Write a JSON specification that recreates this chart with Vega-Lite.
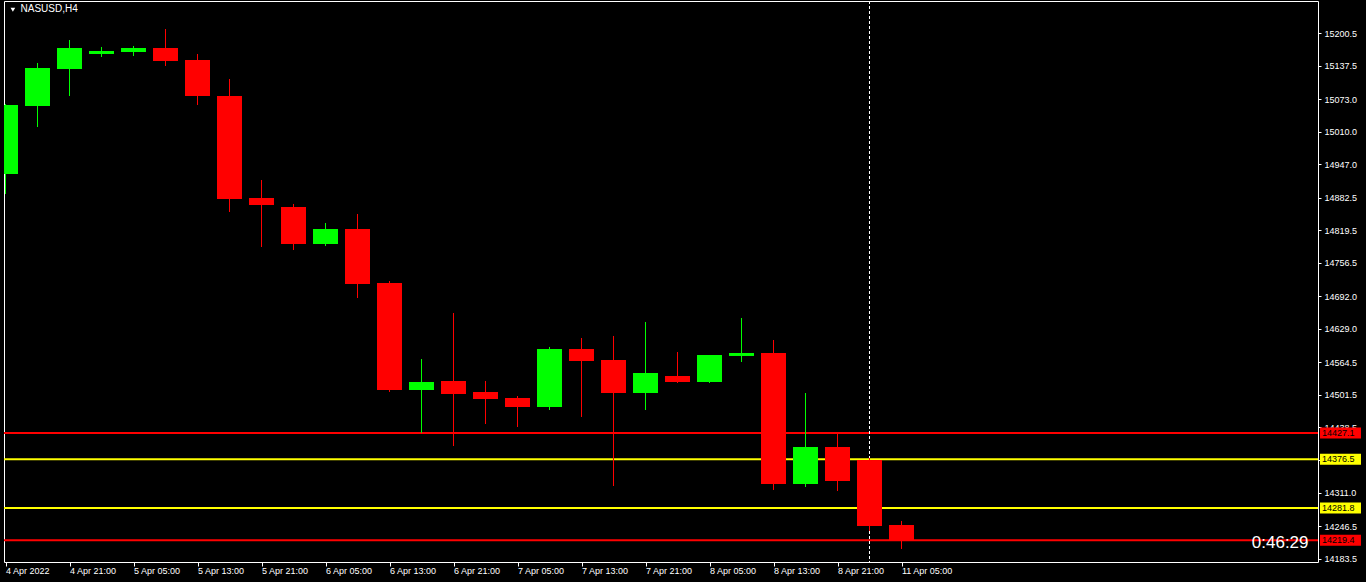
{
  "$schema": "https://vega.github.io/schema/vega-lite/v6.json",
  "width": 1314,
  "height": 561,
  "autosize": {"type": "none"},
  "padding": {"left": 4, "top": 1, "right": 48, "bottom": 20},
  "background": "#000000",
  "config": {
    "view": {"stroke": "#ffffff", "strokeWidth": 1},
    "font": "Liberation Sans",
    "axis": {"labelOverlap": false, "labelBound": false, "labelFlush": false},
    "scale": {"continuousPadding": 0}
  },
  "datasets": {
    "candles": [
      {"i": 0, "t": "4 Apr 13:00", "open": 14928.4, "high": 15063.9, "low": 14889.7, "close": 15062.0},
      {"i": 1, "t": "4 Apr 17:00", "open": 15060.1, "high": 15143.3, "low": 15019.4, "close": 15133.6},
      {"i": 2, "t": "4 Apr 21:00", "open": 15131.7, "high": 15187.8, "low": 15079.4, "close": 15172.3},
      {"i": 3, "t": "5 Apr 01:00", "open": 15160.7, "high": 15174.3, "low": 15154.9, "close": 15166.5},
      {"i": 4, "t": "5 Apr 05:00", "open": 15164.6, "high": 15176.2, "low": 15156.8, "close": 15172.3},
      {"i": 5, "t": "5 Apr 09:00", "open": 15172.3, "high": 15209.1, "low": 15137.5, "close": 15147.2},
      {"i": 6, "t": "5 Apr 13:00", "open": 15149.1, "high": 15160.7, "low": 15062.0, "close": 15079.4},
      {"i": 7, "t": "5 Apr 17:00", "open": 15079.4, "high": 15112.3, "low": 14854.9, "close": 14880.1},
      {"i": 8, "t": "5 Apr 21:00", "open": 14882.0, "high": 14916.8, "low": 14787.1, "close": 14868.4},
      {"i": 9, "t": "6 Apr 01:00", "open": 14864.6, "high": 14870.4, "low": 14781.3, "close": 14792.9},
      {"i": 10, "t": "6 Apr 05:00", "open": 14792.9, "high": 14833.6, "low": 14789.0, "close": 14822.0},
      {"i": 11, "t": "6 Apr 09:00", "open": 14822.0, "high": 14851.0, "low": 14688.4, "close": 14715.5},
      {"i": 12, "t": "6 Apr 13:00", "open": 14717.5, "high": 14721.3, "low": 14506.5, "close": 14510.3},
      {"i": 13, "t": "6 Apr 17:00", "open": 14510.3, "high": 14570.3, "low": 14427.1, "close": 14525.8},
      {"i": 14, "t": "6 Apr 21:00", "open": 14527.8, "high": 14659.4, "low": 14401.9, "close": 14502.6},
      {"i": 15, "t": "7 Apr 01:00", "open": 14506.5, "high": 14527.8, "low": 14444.5, "close": 14492.9},
      {"i": 16, "t": "7 Apr 05:00", "open": 14494.9, "high": 14498.7, "low": 14438.7, "close": 14477.4},
      {"i": 17, "t": "7 Apr 09:00", "open": 14477.4, "high": 14593.6, "low": 14471.6, "close": 14589.7},
      {"i": 18, "t": "7 Apr 13:00", "open": 14589.7, "high": 14611.0, "low": 14458.1, "close": 14566.5},
      {"i": 19, "t": "7 Apr 17:00", "open": 14568.4, "high": 14614.9, "low": 14324.5, "close": 14504.5},
      {"i": 20, "t": "7 Apr 21:00", "open": 14504.5, "high": 14642.0, "low": 14471.6, "close": 14543.2},
      {"i": 21, "t": "8 Apr 01:00", "open": 14537.4, "high": 14583.9, "low": 14523.9, "close": 14525.8},
      {"i": 22, "t": "8 Apr 05:00", "open": 14525.8, "high": 14578.1, "low": 14523.9, "close": 14578.1},
      {"i": 23, "t": "8 Apr 09:00", "open": 14576.2, "high": 14649.7, "low": 14564.5, "close": 14582.0},
      {"i": 24, "t": "8 Apr 13:00", "open": 14582.0, "high": 14607.1, "low": 14316.8, "close": 14328.4},
      {"i": 25, "t": "8 Apr 17:00", "open": 14328.4, "high": 14504.5, "low": 14322.6, "close": 14400.0},
      {"i": 26, "t": "8 Apr 21:00", "open": 14400.0, "high": 14425.2, "low": 14314.8, "close": 14334.2},
      {"i": 27, "t": "11 Apr 01:00", "open": 14374.8, "high": 14378.7, "low": 14237.4, "close": 14247.1},
      {"i": 28, "t": "11 Apr 05:00", "open": 14249.0, "high": 14256.8, "low": 14202.6, "close": 14219.4}
    ],
    "levels": [
      {"price": 14427.1, "group": "red"},
      {"price": 14376.5, "group": "yellow"},
      {"price": 14281.8, "group": "yellow"},
      {"price": 14219.4, "group": "red"}
    ]
  },
  "layer": [
    {
      "data": {"name": "levels"},
      "mark": {"type": "rule", "strokeWidth": 2, "clip": true},
      "encoding": {
        "y": {
          "field": "price",
          "type": "quantitative",
          "scale": {"domain": [14177.4, 15263.3], "nice": false, "zero": false, "padding": 0},
          "axis": {
            "orient": "right",
            "values": [15200.5, 15137.5, 15073.0, 15010.0, 14947.0, 14882.5, 14819.5, 14756.5, 14692.0, 14629.0, 14564.5, 14501.5, 14438.5, 14374.0, 14311.0, 14246.5, 14183.5],
            "tickCount": 30,
            "format": ".1f",
            "title": null,
            "grid": false,
            "domain": false,
            "tickColor": "#ffffff",
            "tickSize": 3,
            "labelColor": "#ffffff",
            "labelFont": "Liberation Sans",
            "labelFontSize": 9,
            "labelPadding": 3,
            "labelOverlap": false,
            "labelBound": false
          }
        },
        "color": {
          "field": "group",
          "type": "nominal",
          "scale": {"domain": ["red", "yellow"], "range": ["#ff0000", "#ffff00"]},
          "legend": null
        }
      }
    },
    {
      "data": {"values": [{"sep": 27}]},
      "mark": {"type": "rule", "color": "#ffffff", "strokeWidth": 1, "strokeDash": [3, 2]},
      "encoding": {
        "x": {"field": "sep", "type": "quantitative"}
      }
    },
    {
      "data": {"name": "candles"},
      "mark": {"type": "rule", "strokeWidth": 1, "clip": true},
      "encoding": {
        "x": {
          "field": "i",
          "type": "quantitative",
          "scale": {"domain": [-0.046875, 41.015625], "nice": false, "zero": false, "padding": 0},
          "axis": {
            "orient": "bottom",
            "values": [0, 2, 4, 6, 8, 10, 12, 14, 16, 18, 20, 22, 24, 26, 28],
            "tickCount": 30,
            "labelExpr": "['4 Apr 2022','4 Apr 21:00','5 Apr 05:00','5 Apr 13:00','5 Apr 21:00','6 Apr 05:00','6 Apr 13:00','6 Apr 21:00','7 Apr 05:00','7 Apr 13:00','7 Apr 21:00','8 Apr 05:00','8 Apr 13:00','8 Apr 21:00','11 Apr 05:00'][round(datum.value/2)]",
            "title": null,
            "grid": false,
            "domain": false,
            "tickColor": "#ffffff",
            "tickSize": 4,
            "labelColor": "#ffffff",
            "labelFont": "Liberation Sans",
            "labelFontSize": 9,
            "labelAlign": "left",
            "labelBaseline": "top",
            "labelPadding": 0,
            "labelDx": -1,
            "labelFlush": false,
            "labelOverlap": false,
            "labelBound": false
          }
        },
        "y": {"field": "low", "type": "quantitative"},
        "y2": {"field": "high"},
        "color": {"condition": {"test": "datum.close >= datum.open", "value": "#00ff00"}, "value": "#ff0000"}
      }
    },
    {
      "data": {"name": "candles"},
      "mark": {"type": "bar", "size": 25, "clip": true},
      "encoding": {
        "x": {"field": "i", "type": "quantitative"},
        "y": {"field": "open", "type": "quantitative"},
        "y2": {"field": "close"},
        "color": {"condition": {"test": "datum.close >= datum.open", "value": "#00ff00"}, "value": "#ff0000"}
      }
    },
    {
      "data": {"name": "levels"},
      "mark": {"type": "bar", "size": 11, "clip": false},
      "encoding": {
        "x": {"datum": 41.078},
        "x2": {"datum": 42.359},
        "y": {"field": "price", "type": "quantitative"},
        "color": {"field": "group", "type": "nominal", "legend": null}
      }
    },
    {
      "data": {"name": "levels"},
      "mark": {"type": "text", "align": "left", "baseline": "middle", "color": "#000000", "font": "Liberation Sans", "fontSize": 9, "clip": false},
      "encoding": {
        "x": {"datum": 41.14},
        "y": {"field": "price", "type": "quantitative"},
        "text": {"field": "price", "type": "quantitative", "format": ".1f"}
      }
    },
    {
      "data": {"values": [{"i": 0.23, "p": 15246.5}]},
      "mark": {"type": "point", "shape": "triangle-down", "filled": true, "color": "#ffffff", "size": 22, "opacity": 1},
      "encoding": {
        "x": {"field": "i", "type": "quantitative"},
        "y": {"field": "p", "type": "quantitative"}
      }
    },
    {
      "data": {"values": [{"i": 0.47, "p": 15247.8, "label": "NASUSD,H4"}]},
      "mark": {"type": "text", "align": "left", "baseline": "middle", "color": "#ffffff", "font": "Liberation Sans", "fontSize": 10},
      "encoding": {
        "x": {"field": "i", "type": "quantitative"},
        "y": {"field": "p", "type": "quantitative"},
        "text": {"field": "label"}
      }
    },
    {
      "data": {"values": [{"i": 40.72, "p": 14213.5, "label": "0:46:29"}]},
      "mark": {"type": "text", "align": "right", "baseline": "middle", "color": "#ffffff", "font": "Liberation Sans", "fontSize": 17},
      "encoding": {
        "x": {"field": "i", "type": "quantitative"},
        "y": {"field": "p", "type": "quantitative"},
        "text": {"field": "label"}
      }
    }
  ]
}
